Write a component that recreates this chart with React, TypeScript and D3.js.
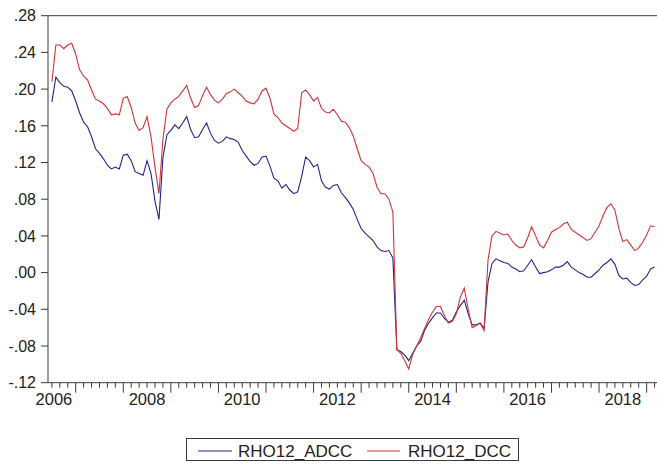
import React from 'react';
import * as d3 from 'd3';

// monthly series, first observation 2006M07
const startYear = 2006;
const startMonth = 7;

const rhoADCC = [
  0.186, 0.213, 0.207, 0.203, 0.202, 0.198, 0.187, 0.174, 0.164, 0.159,
  0.148, 0.135, 0.130, 0.124, 0.117, 0.113, 0.115, 0.113, 0.128, 0.129,
  0.122, 0.110, 0.108, 0.106, 0.122, 0.108, 0.078, 0.058, 0.125, 0.150,
  0.155, 0.161, 0.157, 0.163, 0.170, 0.156, 0.147, 0.148, 0.156, 0.163,
  0.152, 0.144, 0.141, 0.143, 0.148, 0.146, 0.145, 0.142, 0.133, 0.127,
  0.121, 0.117, 0.119, 0.126, 0.127, 0.116, 0.103, 0.100, 0.092, 0.096,
  0.090, 0.086, 0.088, 0.105, 0.126, 0.122, 0.115, 0.118, 0.100, 0.093,
  0.091, 0.095, 0.096, 0.087, 0.082, 0.076, 0.069, 0.058, 0.048, 0.043,
  0.039, 0.035, 0.028, 0.024, 0.023, 0.024, 0.016, -0.084, -0.086, -0.090,
  -0.096, -0.088, -0.080, -0.075, -0.063, -0.055, -0.049, -0.044, -0.044, -0.050,
  -0.054, -0.052, -0.043, -0.036, -0.030, -0.045, -0.057, -0.057, -0.055, -0.061,
  -0.010, 0.010, 0.015, 0.013, 0.011, 0.010, 0.006, 0.004, 0.001, 0.002,
  0.008, 0.014, 0.006, -0.001, 0.000, 0.001, 0.003, 0.006, 0.006, 0.008,
  0.012, 0.006, 0.003, 0.000, -0.002, -0.005, -0.005, -0.001, 0.003, 0.008,
  0.011, 0.015, 0.009, -0.003, -0.007, -0.006, -0.011, -0.014, -0.013, -0.008,
  -0.004, 0.004, 0.006,
];

const rhoDCC = [
  0.208, 0.248, 0.248, 0.244, 0.248, 0.250, 0.238, 0.221, 0.214, 0.210,
  0.199, 0.189, 0.187, 0.184, 0.179, 0.172, 0.173, 0.172, 0.190, 0.192,
  0.180, 0.163, 0.155, 0.158, 0.170, 0.148, 0.115, 0.086, 0.145, 0.178,
  0.185, 0.189, 0.192, 0.198, 0.204, 0.190, 0.180, 0.182, 0.193, 0.202,
  0.194, 0.188, 0.185, 0.189, 0.195, 0.197, 0.200, 0.196, 0.192, 0.187,
  0.185, 0.184, 0.189, 0.198, 0.201, 0.190, 0.173, 0.169, 0.163, 0.160,
  0.157, 0.154, 0.157, 0.196, 0.199, 0.194, 0.187, 0.191, 0.179, 0.175,
  0.174, 0.178, 0.172, 0.165, 0.164, 0.158, 0.149, 0.135, 0.122, 0.118,
  0.115, 0.108, 0.093, 0.086, 0.086, 0.080, 0.066, -0.084, -0.088, -0.096,
  -0.105, -0.089, -0.080, -0.071, -0.061, -0.051, -0.043, -0.037, -0.037, -0.047,
  -0.055, -0.053, -0.045, -0.027, -0.017, -0.040, -0.060, -0.058, -0.055, -0.063,
  0.014, 0.040, 0.045, 0.043, 0.041, 0.042, 0.035, 0.030, 0.027, 0.028,
  0.038, 0.050, 0.040, 0.030, 0.027, 0.035, 0.044, 0.047, 0.049, 0.053,
  0.055, 0.047, 0.044, 0.041, 0.038, 0.035, 0.037, 0.044, 0.051, 0.062,
  0.071, 0.075, 0.068, 0.048, 0.034, 0.036, 0.030, 0.024, 0.027, 0.033,
  0.041, 0.051, 0.050,
];

const yTicks = [0.28, 0.24, 0.2, 0.16, 0.12, 0.08, 0.04, 0, -0.04, -0.08, -0.12];
const yearLabels = [2006, 2008, 2010, 2012, 2014, 2016, 2018];
const seriesNames = ['RHO12_ADCC', 'RHO12_DCC'];
const colors = ['#23238c', '#d03434'];

const W = 657;
const H = 469;
const left = 48;
const right = 657;
const top = 15.7;
const bottom = 382.7;

const fmt = (v: number) => {
  const s = d3.format('.2f')(Math.abs(v)).replace(/^0/, '');
  return v < -1e-9 ? '-' + s : s;
};

const App = () => {
  const x = d3.scaleLinear().domain([2006.418, 2019.218]).range([left, right]);
  const y = d3.scaleLinear().domain([-0.12, 0.28]).range([bottom, top]);

  const dateOf = (i: number) => startYear + (startMonth - 1 + i) / 12;

  const line = d3
    .line<number>()
    .x((_, i) => x(dateOf(i)))
    .y((d) => y(d));

  // year ticks (long) and bimonthly ticks (short)
  const yearTicks = d3.range(2007, 2020);
  const minorTicks = d3
    .range(2006 * 6, 2019 * 6 + 2)
    .map((k) => k / 6)
    .filter((t) => Math.abs(t - Math.round(t)) > 1e-6);

  const font = '"Liberation Sans", Arial, sans-serif';
  const axisColor = '#3a3a3a';

  return (
    <div style={{ position: 'absolute', left: 0, top: 0 }}>
      <svg width={W} height={H} style={{ display: 'block', background: '#fff' }}>
        <defs>
          <clipPath id="plot">
            <rect x={left} y={top - 2} width={right - left} height={bottom - top + 4} />
          </clipPath>
        </defs>

        {/* frame */}
        <line x1={left} x2={right} y1={top} y2={top} stroke={axisColor} strokeWidth={1} />
        <line x1={left} x2={left} y1={top} y2={bottom} stroke={axisColor} strokeWidth={1} />
        <line x1={left} x2={right} y1={bottom} y2={bottom} stroke={axisColor} strokeWidth={1} />

        {/* y axis */}
        {yTicks.map((t) => (
          <g key={t}>
            <line x1={left - 7} x2={left} y1={y(t)} y2={y(t)} stroke={axisColor} strokeWidth={1} />
            <text
              x={36}
              y={y(t)}
              dy="0.36em"
              textAnchor="end"
              fontFamily={font}
              fontSize={16}
              fill="#222"
            >
              {fmt(t)}
            </text>
          </g>
        ))}

        {/* x axis ticks */}
        {minorTicks
          .filter((t) => x(t) > left + 1 && x(t) < right)
          .map((t) => (
            <line key={'m' + t} x1={x(t)} x2={x(t)} y1={bottom} y2={bottom + 5} stroke={axisColor} strokeWidth={1} />
          ))}
        {yearTicks
          .filter((t) => x(t) < right)
          .map((t) => (
            <line key={'y' + t} x1={x(t)} x2={x(t)} y1={bottom} y2={bottom + 10} stroke={axisColor} strokeWidth={1} />
          ))}
        {yearLabels.map((yr) => (
          <text
            key={yr}
            x={yr === 2006 ? x(yr + 0.5) + 2 : x(yr + 0.5)}
            y={405}
            textAnchor="middle"
            fontFamily={font}
            fontSize={16.5}
            fill="#222"
          >
            {yr}
          </text>
        ))}

        {/* series */}
        <g clipPath="url(#plot)">
          <path d={line(rhoADCC) ?? ''} fill="none" stroke={colors[0]} strokeWidth={1.1} />
          <path d={line(rhoDCC) ?? ''} fill="none" stroke={colors[1]} strokeWidth={1.1} />
        </g>

        {/* legend */}
        <rect x={186.5} y={438.5} width={332} height={22} fill="#fff" stroke={axisColor} strokeWidth={1} />
        <line x1={198} x2={232} y1={451} y2={451} stroke={colors[0]} strokeWidth={1.1} />
        <text x={238} y={456.5} fontFamily={font} fontSize={17} fill="#222">
          {seriesNames[0]}
        </text>
        <line x1={367} x2={400} y1={451} y2={451} stroke={colors[1]} strokeWidth={1.1} />
        <text x={408} y={456.5} fontFamily={font} fontSize={17} fill="#222">
          {seriesNames[1]}
        </text>
      </svg>
    </div>
  );
};

export default App;
